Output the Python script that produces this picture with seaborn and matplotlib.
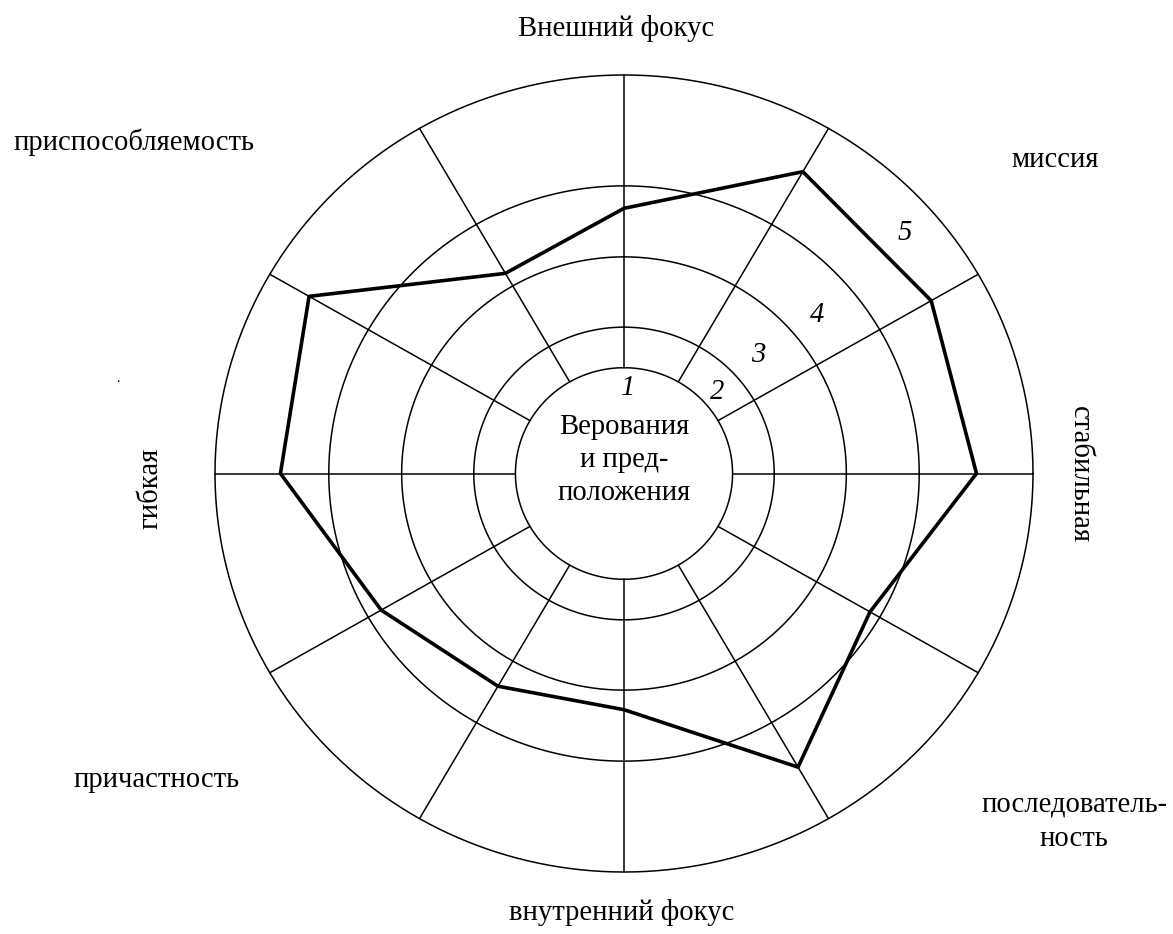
import numpy as np
import pandas as pd
import matplotlib
matplotlib.use("Agg")
import matplotlib.pyplot as plt
import seaborn as sns

# ---- data ----
spoke_angles_deg = [0, 30, 60, 90, 120, 150, 180, 210, 240, 270, 300, 330]
profile_values = [4.74, 4.77, 4.81, 3.66, 3.19, 4.89, 4.62, 3.77, 3.39, 3.26, 4.68, 3.82]
ring_levels = [1.46, 2.02, 2.99, 3.97, 5.5]
zone_labels = ["1", "2", "3", "4", "5"]
axis_labels = ["Внешний фокус", "миссия", "стабильная", "последователь-\nность",
               "внутренний фокус", "причастность", "гибкая", "приспособляемость"]
center_label = "Верования\nи пред-\nположения"

sns.set_theme(style="white")
plt.rcParams["font.family"] = ["Liberation Serif", "DejaVu Serif"]
plt.rcParams["text.color"] = "black"

W, H = 1173, 934
fig = plt.figure(figsize=(W / 100, H / 100), dpi=100)
fig.patch.set_facecolor("white")

def fx(px):
    return px / W

def fy(py):
    return 1 - py / H

ax = fig.add_axes([fx(215), fy(872), (1033 - 215) / W, (872 - 75) / H], projection="polar")
ax.set_aspect("auto")
ax.set_theta_zero_location("E")
ax.set_theta_direction(1)
ax.grid(False)
ax.spines["polar"].set_visible(False)
ax.set_facecolor("none")

lw_thin = 1.1
# rings
th_full = np.linspace(0, 2 * np.pi, 721)
for lev in ring_levels:
    ax.plot(th_full, np.full_like(th_full, lev), color="black", lw=lw_thin, clip_on=False)
# spokes from inner circle to outer circle
for a in spoke_angles_deg:
    t = np.deg2rad(a)
    ax.plot([t, t], [ring_levels[0], ring_levels[-1]], color="black", lw=lw_thin, clip_on=False)

# profile polygon
df = pd.DataFrame({"theta": np.deg2rad(spoke_angles_deg), "value": profile_values})
df_closed = pd.concat([df, df.iloc[[0]]], ignore_index=True)
sns.lineplot(data=df_closed, x="theta", y="value", sort=False, estimator=None,
             color="black", lw=2.6, ax=ax, legend=False)
ax.set_xlabel("")
ax.set_ylabel("")
ax.set_rlim(0, ring_levels[-1])
ax.set_xticks([])
ax.set_yticks([])

fs = 20.6
tc = "black"
# axis labels
fig.text(fx(616), fy(29), axis_labels[0], ha="center", va="center", fontsize=fs, color=tc)
fig.text(fx(1055), fy(160), axis_labels[1], ha="center", va="center", fontsize=fs, color=tc)
fig.text(fx(1080), fy(474), axis_labels[2], ha="center", va="center", fontsize=fs,
         rotation=-90, color=tc)
fig.text(fx(1074), fy(822), axis_labels[3], ha="center", va="center", fontsize=fs,
         multialignment="center", linespacing=1.42, color=tc)
fig.text(fx(622), fy(913), axis_labels[4], ha="center", va="center", fontsize=fs, color=tc)
fig.text(fx(157), fy(780), axis_labels[5], ha="center", va="center", fontsize=fs, color=tc)
fig.text(fx(150), fy(488), axis_labels[6], ha="center", va="center", fontsize=fs,
         rotation=90, color=tc)
fig.text(fx(134), fy(142), axis_labels[7], ha="center", va="center", fontsize=fs, color=tc)
fig.text(fx(118), fy(378), ".", ha="center", va="center", fontsize=10, color=tc)

# center label
fig.text(fx(624), fy(460), center_label, ha="center", va="center", fontsize=fs,
         multialignment="center", linespacing=1.36, color=tc)

# zone numbers
zone_pos = [(628, 388), (717, 392), (758, 355), (817, 315), (905, 233)]
for lab, (px, py) in zip(zone_labels, zone_pos):
    fig.text(fx(px), fy(py), lab, ha="center", va="center", fontsize=fs,
             style="italic", color=tc)

fig.savefig("out.png", dpi=100, facecolor="white")
